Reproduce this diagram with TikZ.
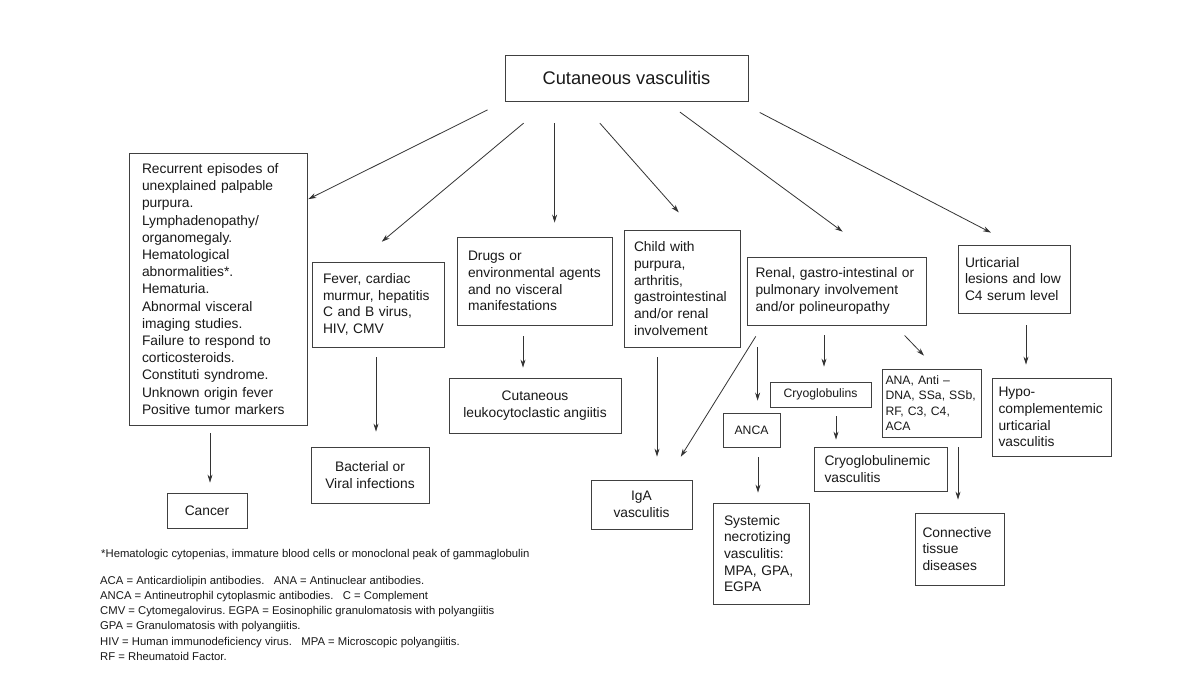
\documentclass[tikz,border=0pt]{standalone}
\usepackage{fontspec}
\setmainfont{Liberation Sans}
\usetikzlibrary{arrows.meta}

\begin{document}
\begin{tikzpicture}[x=1pt, y=-1pt, >={Stealth[length=8pt, width=5pt]},
  box/.style={draw=black!75, line width=0.8pt, text=black!90, inner ysep=0pt, font=\fontsize{13.8}{16.7}\selectfont},
  lbox/.style={box, align=left, text width=#1},
  cbox/.style={box, align=center},
  small/.style={font=\fontsize{12.2}{15.3}\selectfont},
  arr/.style={->, line width=0.8pt, black!80},
  note/.style={text=black!90, font=\fontsize{11.3}{15.2}\selectfont, inner sep=0pt}]
  \path[use as bounding box, fill=white] (0,0) rectangle (1200,675);

  % root and first row
  \node[cbox, minimum width=243pt, minimum height=46pt, font=\fontsize{18.3}{22}\selectfont] (top) at (626.5,78) {Cutaneous vasculitis};
  \node[lbox=152pt, inner xsep=13pt, minimum height=272pt, font=\fontsize{13.8}{17.2}\selectfont] (left) at (218,289)
    {Recurrent episodes of\\unexplained palpable\\purpura.\\Lymphadenopathy/\\organomegaly.\\Hematological\\abnormalities*.\\Hematuria.\\Abnormal visceral\\imaging studies.\\Failure to respond to\\corticosteroids.\\Constituti syndrome.\\Unknown origin fever\\Positive tumor markers};
  \node[lbox=110pt, inner xsep=11pt, minimum height=85pt] (fever) at (378,304.5) {Fever, cardiac\\murmur, hepatitis\\C and B virus,\\HIV, CMV};
  \node[lbox=133pt, inner xsep=11pt, minimum height=88pt] (drugs) at (534.5,281) {Drugs or\\environmental agents\\and no visceral\\manifestations};
  \node[lbox=96pt, inner xsep=10pt, minimum height=117pt] (child) at (682,288.5) {Child with\\purpura,\\arthritis,\\gastrointestinal\\and/or renal\\involvement};
  \node[lbox=162pt, inner xsep=8.5pt, minimum height=68pt] (renal) at (836.5,291) {Renal, gastro-intestinal or\\pulmonary involvement\\and/or polineuropathy};
  \node[lbox=98pt, inner xsep=7pt, minimum height=68pt] (urt) at (1014,279) {Urticarial\\lesions and low\\C4 serum level};

  % outcomes
  \node[cbox, minimum width=80pt, minimum height=35pt] (cancer) at (207,510.5) {Cancer};
  \node[cbox, minimum width=118pt, minimum height=56pt] (bact) at (370,475) {Bacterial or\\Viral infections};
  \node[cbox, minimum width=172pt, minimum height=55pt] (cut) at (535,405.5) {Cutaneous\\leukocytoclastic angiitis};
  \node[cbox, minimum width=101pt, minimum height=49pt] (iga) at (641.5,504.5) {IgA\\vasculitis};
  \node[cbox, small, minimum width=57pt, minimum height=34pt] (anca) at (751.5,430) {ANCA};
  \node[cbox, small, minimum width=101pt, minimum height=25pt] (cryo) at (820.5,394.5) {Cryoglobulins};
  \node[lbox=92pt, small, inner xsep=3.5pt, minimum height=68pt] (ana) at (931.5,403) {ANA, Anti --\\DNA, SSa, SSb,\\RF, C3, C4,\\ACA};
  \node[lbox=106pt, inner xsep=6.5pt, minimum height=78pt] (hypo) at (1051.5,417) {Hypo-\\complementemic\\urticarial\\vasculitis};
  \node[lbox=112pt, inner xsep=10.5pt, minimum height=44pt] (cgv) at (880.5,469) {Cryoglobulinemic\\vasculitis};
  \node[lbox=74pt, inner xsep=11pt, minimum height=101pt] (snv) at (761,553.5) {Systemic\\necrotizing\\vasculitis:\\MPA, GPA,\\EGPA};
  \node[lbox=74pt, inner xsep=7.5pt, minimum height=72pt] (ctd) at (959.5,549) {Connective\\tissue\\diseases};

  % arrows from the root
  \draw[arr, shorten <=19pt, shorten >=1pt] (top.south west) -- (left.45);
  \draw[arr, shorten <=34pt, shorten >=31pt] ([xshift=45pt]top.south west) -- ([xshift=-20pt]fever.north);
  \draw[arr, shorten <=22pt, shorten >=14pt] ([xshift=50pt]top.south west) -- ([xshift=50pt]top.south west |- drugs.north);
  \draw[arr, shorten <=29pt, shorten >=23pt] ([xshift=76pt]top.south west) -- ([xshift=12pt]child.north);
  \draw[arr, shorten <=18pt, shorten >=42pt] ([xshift=-83pt]top.south east) -- ([xshift=40pt]renal.north);
  \draw[arr, shorten <=24pt, shorten >=26pt] ([xshift=-10pt]top.south east) -- (urt.north);

  % arrows below
  \draw[arr, shorten <=8pt, shorten >=10pt] ([xshift=-8pt]left.south) -- ([xshift=-8pt]left.south |- cancer.north);
  \draw[arr, shorten <=10pt, shorten >=15pt] ([xshift=-2pt]fever.south) -- ([xshift=-2pt]fever.south |- bact.north);
  \draw[arr, shorten <=11pt, shorten >=10pt] ([xshift=-11.5pt]drugs.south) -- ([xshift=-11.5pt]drugs.south |- cut.north);
  \draw[arr, shorten <=10pt, shorten >=23pt] ([xshift=-25pt]child.south) -- ([xshift=-25pt]child.south |- iga.north);
  \draw[arr, shorten <=13pt, shorten >=27pt] ([xshift=16pt]renal.south west) -- ([xshift=25pt]iga.north);
  \draw[arr, shorten <=22pt, shorten >=12pt] ([xshift=11pt]renal.south west) -- ([xshift=11pt]renal.south west |- anca.north);
  \draw[arr, shorten <=10pt, shorten >=15pt] ([xshift=-12.5pt]renal.south) -- ([xshift=-12.5pt]renal.south |- cryo.north);
  \draw[arr, shorten <=14pt, shorten >=18pt] ([xshift=-31.5pt]renal.south east) -- ([xshift=5pt]ana.north);
  \draw[arr, shorten <=12pt, shorten >=13pt] ([xshift=12pt]urt.south) -- ([xshift=12pt]urt.south |- hypo.north);
  \draw[arr, shorten <=10pt, shorten >=10pt] ([xshift=6.5pt]anca.south) -- ([xshift=6.5pt]anca.south |- snv.north);
  \draw[arr, shorten <=9pt, shorten >=7pt] ([xshift=15.5pt]cryo.south) -- ([xshift=15.5pt]cryo.south |- cgv.north);
  \draw[arr, shorten <=10pt, shorten >=13pt] ([xshift=26.5pt]ana.south) -- ([xshift=26.5pt]ana.south |- ctd.north);

  % footnotes
  \node[note, anchor=base west] (star) at (101,557) {*Hematologic cytopenias, immature blood cells or monoclonal peak of gammaglobulin};
  \node[note, align=left, anchor=north west] (abbr) at (100,576)
    {ACA = Anticardiolipin antibodies.\ \ \ ANA = Antinuclear antibodies.\\
     ANCA = Antineutrophil cytoplasmic antibodies.\ \ \ C = Complement\\
     CMV = Cytomegalovirus.\ EGPA = Eosinophilic granulomatosis with polyangiitis\\
     GPA = Granulomatosis with polyangiitis.\\
     HIV = Human immunodeficiency virus.\ \ \ MPA = Microscopic polyangiitis.\\
     RF = Rheumatoid Factor.};
\end{tikzpicture}
\end{document}
